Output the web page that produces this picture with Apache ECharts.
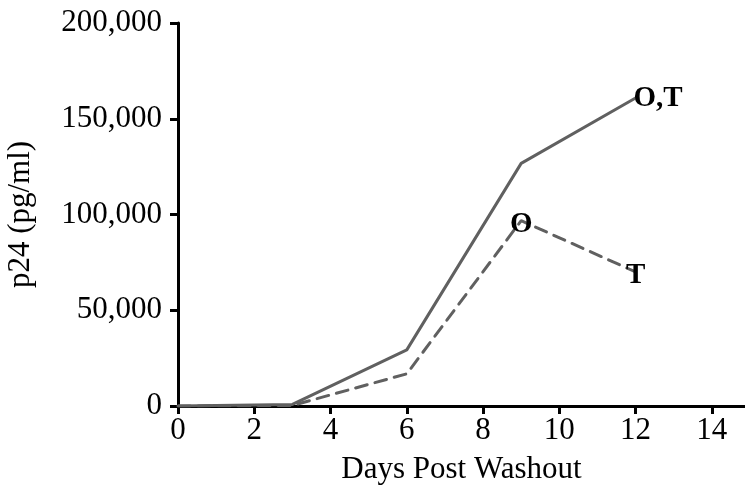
<!DOCTYPE html>
<html>
<head>
<meta charset="utf-8">
<script src="https://cdn.jsdelivr.net/npm/echarts@6/dist/echarts.min.js"></script>
<style>
  html, body { margin: 0; padding: 0; background: #fff; }
  #chart { width: 745px; height: 500px; }
</style>
</head>
<body>
<div id="chart"></div>
<script>
// days post washout
var days = [0, 3, 6, 9, 12]
// p24 (pg/ml), solid and dashed curves
var solidValues = [0, 800, 29300, 126700, 160800]
var dashedValues = [0, 300, 16800, 96800, 70000]
// point labels
var solidLabels = ['', '', '', '', 'O,T']
var dashedLabels = ['', '', '', 'O', 'T']
var xTicks = [0, 2, 4, 6, 8, 10, 12, 14]
var yTicks = [0, 50000, 100000, 150000, 200000]

var font = 'Liberation Serif'

function toPoints(values, labels, labelStyle) {
  return days.map(function (d, i) {
    var item = { value: [d, values[i]] }
    if (labels[i]) {
      item.label = Object.assign({ show: true, formatter: labels[i] }, labelStyle)
    }
    return item
  })
}

var chart = echarts.init(document.getElementById('chart'), null, { renderer: 'canvas' })
chart.setOption({
  animation: false,
  grid: {
    left: 178,
    right: 0,
    top: 23,
    bottom: 94,
    outerBoundsMode: 'none'
  },
  xAxis: {
    type: 'value',
    min: 0,
    max: 14.87,
    name: 'Days Post Washout',
    nameLocation: 'middle',
    nameGap: 48,
    nameTextStyle: { fontFamily: font, fontSize: 31, color: '#000' },
    splitLine: { show: false },
    axisLine: { lineStyle: { color: '#000', width: 3 } },
    axisTick: { customValues: xTicks, length: 8, lineStyle: { color: '#000', width: 3 } },
    axisLabel: {
      customValues: xTicks,
      margin: 9,
      fontFamily: font,
      fontSize: 31,
      color: '#000'
    }
  },
  yAxis: {
    type: 'value',
    min: 0,
    max: 200000,
    interval: 50000,
    name: 'p24 (pg/ml)',
    nameLocation: 'middle',
    nameGap: 142,
    nameTextStyle: { fontFamily: font, fontSize: 31, color: '#000' },
    splitLine: { show: false },
    axisLine: { show: true, lineStyle: { color: '#000', width: 3 } },
    axisTick: { show: true, length: 8, lineStyle: { color: '#000', width: 3 } },
    axisLabel: {
      customValues: yTicks,
      margin: 16,
      fontFamily: font,
      fontSize: 31,
      color: '#000',
      formatter: function (v) { return v.toLocaleString('en-US') }
    }
  },
  series: [
    {
      type: 'line',
      symbol: 'circle',
      symbolSize: 0,
      lineStyle: { color: '#606060', width: 3 },
      data: toPoints(solidValues, solidLabels, {
        position: 'right',
        distance: -2,
        fontFamily: font,
        fontWeight: 'bold',
        fontSize: 29,
        color: '#000'
      })
    },
    {
      type: 'line',
      symbol: 'circle',
      symbolSize: 0,
      lineStyle: { color: '#606060', width: 3, type: [12, 8], cap: 'round' },
      data: toPoints(dashedValues, dashedLabels, {
        position: 'inside',
        offset: [0, 4],
        fontFamily: font,
        fontWeight: 'bold',
        fontSize: 29,
        color: '#000'
      })
    }
  ]
})
</script>
</body>
</html>
